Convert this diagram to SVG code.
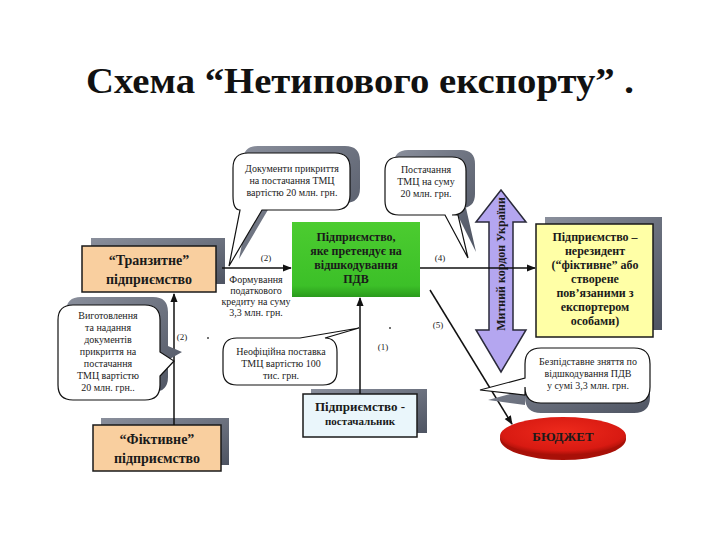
<svg xmlns="http://www.w3.org/2000/svg" width="720" height="540" viewBox="0 0 720 540">
<defs>
<marker id="ah" viewBox="0 0 10 10" refX="9" refY="5" markerWidth="9" markerHeight="9" orient="auto" markerUnits="userSpaceOnUse"><path d="M0,1 L10,5 L0,9 Z" fill="#111"/></marker>
<linearGradient id="shg" x1="0" y1="0" x2="1" y2="1"><stop offset="0" stop-color="#8a8f9c"/><stop offset="1" stop-color="#4e5462"/></linearGradient>
<radialGradient id="redg" cx="0.5" cy="0.4" r="0.6"><stop offset="0" stop-color="#ee2a1c"/><stop offset="0.8" stop-color="#d81a12"/><stop offset="1" stop-color="#a81008"/></radialGradient>
<linearGradient id="grg" x1="0" y1="0" x2="0" y2="1"><stop offset="0" stop-color="#4ccc30"/><stop offset="0.85" stop-color="#3cc028"/><stop offset="1" stop-color="#2a9a1c"/></linearGradient>
</defs>
<style>
.box{stroke:#1a1a1a;stroke-width:1.5}
.sh{fill:url(#shg)}
.lbl{font-family:"Liberation Serif","DejaVu Serif",serif;font-weight:bold;fill:#1a1a1a;text-anchor:middle}
.sm{font-family:"Liberation Serif","DejaVu Serif",serif;font-size:10px;fill:#222;text-anchor:middle}
.bub{fill:#fff;stroke:#111;stroke-width:1.2}
.conn{stroke:#111;stroke-width:1.5;fill:none}
.num{font-family:"Liberation Serif",serif;font-size:9px;fill:#222;text-anchor:middle}
</style>
<rect width="720" height="540" fill="#fff"/>

<text x="86" y="93" font-family="'Liberation Serif','DejaVu Serif',serif" font-weight="bold" font-size="36" fill="#111" textLength="548" lengthAdjust="spacingAndGlyphs">Схема “Нетипового експорту” .</text>

<g id="transit">
<rect class="sh" x="91" y="238" width="134" height="46"/>
<rect class="box" x="82" y="246" width="134" height="46" fill="#f9cf9f"/>
<text class="lbl" x="149" y="265" font-size="14">“Транзитне”</text>
<text class="lbl" x="149" y="284" font-size="14">підприємство</text>
</g>

<g id="vat-claimant">
<rect x="292" y="222" width="128" height="75" fill="url(#grg)"/>
<text class="lbl" x="356" y="241" font-size="12" fill="#0d2a0a">Підприємство,</text>
<text class="lbl" x="356" y="255" font-size="12" fill="#0d2a0a">яке претендує  на</text>
<text class="lbl" x="356" y="269" font-size="12" fill="#0d2a0a">відшкодування</text>
<text class="lbl" x="356" y="283" font-size="12" fill="#0d2a0a">ПДВ</text>
</g>

<g id="nonresident">
<rect class="sh" x="545" y="217" width="117" height="113"/>
<rect class="box" x="536" y="224" width="117" height="113" fill="#ffffa6"/>
<text class="lbl" x="595" y="241" font-size="12">Підприємство –</text>
<text class="lbl" x="595" y="255" font-size="12">нерезидент</text>
<text class="lbl" x="595" y="269" font-size="12">(“фіктивне” або</text>
<text class="lbl" x="595" y="283" font-size="12">створене</text>
<text class="lbl" x="595" y="297" font-size="12">пов’язаними з</text>
<text class="lbl" x="595" y="311" font-size="12">експортером</text>
<text class="lbl" x="595" y="325" font-size="12">особами)</text>
</g>

<g id="customs-border">
<path d="M501,190 L526,222 L513,222 L513,330 L526,330 L501,372 L476,330 L489,330 L489,222 L476,222 Z" fill="#b4a6f0" stroke="#2a2a3a" stroke-width="1.5"/>
<text class="lbl" transform="translate(505,264) rotate(-90)" font-size="12" fill="#1a1a5a">Митний кордон України</text>
</g>

<g id="supplier">
<rect class="sh" x="311" y="389" width="116" height="44"/>
<rect class="box" x="303" y="394" width="114" height="43" fill="#eaf6fb"/>
<text class="lbl" x="360" y="411" font-size="13">Підприємство -</text>
<text class="lbl" x="360" y="425" font-size="11">постачальник</text>
</g>

<g id="fictive">
<rect class="sh" x="101" y="418" width="128" height="47"/>
<rect class="box" x="93" y="425" width="128" height="46" fill="#f9cf9f"/>
<text class="lbl" x="157" y="444" font-size="14">“Фіктивне”</text>
<text class="lbl" x="157" y="463" font-size="14">підприємство</text>
</g>

<g id="budget">
<ellipse cx="563" cy="439" rx="63" ry="21" fill="#a81008"/>
<ellipse cx="563" cy="436" rx="63" ry="19" fill="url(#redg)"/>
<text class="lbl" x="563" y="441" font-size="13" fill="#3a0600">БЮДЖЕТ</text>
</g>

<g id="connectors">
<line class="conn" x1="174" y1="425" x2="174" y2="294" marker-end="url(#ah)"/>
<text class="num" x="182" y="340">(2)</text>
<line class="conn" x1="222" y1="268" x2="291" y2="268" marker-end="url(#ah)"/>
<text class="num" x="266" y="261">(2)</text>
<line class="conn" x1="420" y1="268" x2="535" y2="268" marker-end="url(#ah)"/>
<text class="num" x="440" y="261">(4)</text>
<line class="conn" x1="360" y1="394" x2="360" y2="298" marker-end="url(#ah)"/>
<text class="num" x="383" y="350">(1)</text>
<line class="conn" x1="430" y1="290" x2="512" y2="424" marker-end="url(#ah)"/>
<text class="num" x="438" y="328">(5)</text>
<circle cx="208" cy="338" r="1" fill="#444"/>
<circle cx="390" cy="328" r="1" fill="#444"/>
</g>

<g id="note-docs">
<path class="sh" d="M258,146 H345 Q360,146 360,161 V188 Q360,203 345,203 H272 L239,259 L250,203 Q243,203 243,189 V161 Q243,146 258,146 Z"/>
<path class="bub" d="M248,153 H335 Q350,153 350,168 V195 Q350,210 335,210 H262 L229,266 L240,210 Q233,210 233,196 V168 Q233,153 248,153 Z"/>
<text class="sm" x="292" y="172">Документи прикриття</text>
<text class="sm" x="292" y="184">на постачання ТМЦ</text>
<text class="sm" x="292" y="196">вартістю 20 млн. грн.</text>
</g>

<g id="note-supply">
<path class="sh" d="M408,150 H461 Q475,150 475,164 V194 Q475,208 461,208 H466 L476,252 L454,208 H408 Q394,208 394,194 V164 Q394,150 408,150 Z"/>
<path class="bub" d="M399,157 H452 Q466,157 466,171 V201 Q466,215 452,215 H458 L468,258 L445,215 H399 Q385,215 385,201 V171 Q385,157 399,157 Z"/>
<text class="sm" x="426" y="173">Постачання</text>
<text class="sm" x="426" y="185">ТМЦ на суму</text>
<text class="sm" x="426" y="197">20 млн. грн.</text>
</g>

<g id="note-forming">
<text class="sm" x="256" y="283">Формування</text>
<text class="sm" x="256" y="294">податкового</text>
<text class="sm" x="256" y="305">кредиту на суму</text>
<text class="sm" x="256" y="316">3,3 млн. грн.</text>
</g>

<g id="note-making">
<path class="sh" d="M81,297 H153 Q168,297 168,312 V346 L182,352 L168,360 V377 Q168,392 153,392 H81 Q66,392 66,377 V312 Q66,297 81,297 Z"/>
<path class="bub" d="M73,305 H145 Q160,305 160,320 V352 L174,361 L160,376 V385 Q160,400 145,400 H73 Q58,400 58,385 V320 Q58,305 73,305 Z"/>
<text class="sm" x="108" y="319">Виготовлення</text>
<text class="sm" x="108" y="331">та надання</text>
<text class="sm" x="108" y="343">документів</text>
<text class="sm" x="108" y="355">прикриття на</text>
<text class="sm" x="108" y="367">постачання</text>
<text class="sm" x="108" y="379">ТМЦ вартістю</text>
<text class="sm" x="108" y="391">20 млн. грн..</text>
</g>

<g id="note-unofficial">
<path class="bub" d="M237,338 H300 L359,328 L325,338 Q337,338 337,352 V371 Q337,385 323,385 H237 Q223,385 223,371 V352 Q223,338 237,338 Z"/>
<text class="sm" x="281" y="355">Неофіційна поставка</text>
<text class="sm" x="281" y="367">ТМЦ вартістю 100</text>
<text class="sm" x="281" y="379">тис. грн.</text>
</g>

<g id="note-refund">
<path class="sh" d="M541,358 H634 Q650,358 650,374 V397 Q650,413 634,413 H541 Q525,413 525,397 V405 L488,400 L525,390 V374 Q525,358 541,358 Z"/>
<path class="bub" d="M541,348 H634 Q650,348 650,364 V387 Q650,403 634,403 H541 Q525,403 525,387 V395 L480,390 L525,378 V364 Q525,348 541,348 Z"/>
<text class="sm" x="588" y="365">Безпідставне зняття по</text>
<text class="sm" x="588" y="377">відшкодування ПДВ</text>
<text class="sm" x="588" y="389">у сумі  3,3 млн.  грн.</text>
</g>
</svg>
